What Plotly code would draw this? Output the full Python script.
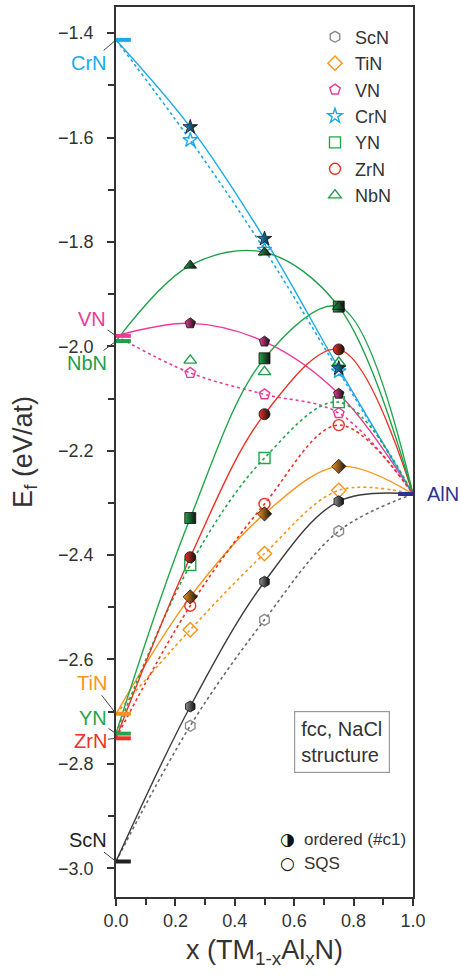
import plotly.graph_objects as go

# ---------------- data ----------------
X_MIX = [0.25, 0.5, 0.75]
COMPOUNDS = ["ScN", "TiN", "VN", "CrN", "YN", "ZrN", "NbN"]
E_BINARY = [-2.987, -2.704, -1.980, -1.413, -2.742, -2.751, -1.990]   # x = 0
E_ALN = -2.283                                                       # x = 1

ORD_ScN = [-2.690, -2.451, -2.297]
ORD_TiN = [-2.480, -2.321, -2.230]
ORD_VN = [-1.956, -1.991, -2.091]
ORD_CrN = [-1.580, -1.794, -2.042]
ORD_YN = [-2.329, -2.023, -1.924]
ORD_ZrN = [-2.404, -2.130, -2.006]
ORD_NbN = [-1.845, -1.820, -1.924]

SQS_ScN = [-2.727, -2.524, -2.354]
SQS_TiN = [-2.543, -2.397, -2.276]
SQS_VN = [-2.051, -2.092, -2.128]
SQS_CrN = [-1.605, -1.815, -2.048]
SQS_YN = [-2.419, -2.214, -2.107]
SQS_ZrN = [-2.497, -2.302, -2.151]
SQS_NbN = [-2.027, -2.049, -2.031]

ORDERED = [ORD_ScN, ORD_TiN, ORD_VN, ORD_CrN, ORD_YN, ORD_ZrN, ORD_NbN]
SQS = [SQS_ScN, SQS_TiN, SQS_VN, SQS_CrN, SQS_YN, SQS_ZrN, SQS_NbN]
SQS_FIT_SHOWN = [True, True, True, True, True, True, False]

# ---------------- style ----------------
LINE_COL = ["#3c3c3c", "#f7941d", "#ec3b96", "#1ca9e6", "#22a64b", "#ee3124", "#1e9e48"]
MARK_COL = ["#8c8c8c", "#f7941d", "#ec3b96", "#1ca9e6", "#22a64b", "#ee3124", "#1e9e48"]
DOT_COL = ["#6a6a6a", "#f7941d", "#ec3b96", "#1ca9e6", "#22a64b", "#ee3124", "#1e9e48"]
SYMBOLS = ["hexagon", "diamond", "pentagon", "star", "square", "circle", "triangle-up"]
ALN_COL = "#2e3192"
BAR_LEN = 0.05
FONT = "Liberation Sans, Arial, sans-serif"
TXT = "#333333"

# label offsets (pixels) for binary-nitride labels
LABEL_OFF = {"ScN": (-28, -22), "TiN": (-24, -31), "VN": (-24, -17), "CrN": (-27, 23),
             "YN": (-23, -16), "ZrN": (-26, 3), "NbN": (-29, 22)}

fig = go.Figure()

# fitted curves (solid = ordered, dotted = SQS)
for i, name in enumerate(COMPOUNDS):
    xs = [0.0] + X_MIX + [1.0]
    if SQS_FIT_SHOWN[i]:
        fig.add_trace(go.Scatter(x=xs, y=[E_BINARY[i]] + SQS[i] + [E_ALN], mode="lines",
                                 line=dict(color=DOT_COL[i], width=1.6, dash="dot", shape="spline"),
                                 showlegend=False, hoverinfo="skip"))
    fig.add_trace(go.Scatter(x=xs, y=[E_BINARY[i]] + ORDERED[i] + [E_ALN], mode="lines",
                             line=dict(color=LINE_COL[i], width=1.4, shape="spline"),
                             showlegend=False, hoverinfo="skip"))

# binary end-point bars
for i, name in enumerate(COMPOUNDS):
    fig.add_trace(go.Scatter(x=[0.0, BAR_LEN], y=[E_BINARY[i]] * 2, mode="lines",
                             line=dict(color=LINE_COL[i] if name != "ScN" else "#222222", width=4),
                             showlegend=False, hoverinfo="skip"))
fig.add_trace(go.Scatter(x=[1.0 - BAR_LEN, 1.0], y=[E_ALN] * 2, mode="lines",
                         line=dict(color=ALN_COL, width=4), showlegend=False, hoverinfo="skip"))

# markers
for i, name in enumerate(COMPOUNDS):
    fig.add_trace(go.Scatter(x=X_MIX, y=SQS[i], mode="markers", name=name,
                             marker=dict(symbol=SYMBOLS[i] + "-open", color=MARK_COL[i], size=11,
                                         line=dict(width=1.4, color=MARK_COL[i]))))
for i, name in enumerate(COMPOUNDS):
    fig.add_trace(go.Scatter(x=X_MIX, y=ORDERED[i], mode="markers", showlegend=False,
                             marker=dict(symbol=SYMBOLS[i], color=MARK_COL[i], size=11,
                                         gradient=dict(type="horizontal", color="#111111"),
                                         line=dict(width=0.8, color="#111111"))))

# labels
for i, name in enumerate(COMPOUNDS):
    ax, ay = LABEL_OFF[name]
    fig.add_annotation(x=0.0, y=E_BINARY[i], text=name, showarrow=True, arrowhead=0,
                       arrowwidth=1, arrowcolor="#444444", ax=ax, ay=ay,
                       font=dict(family=FONT, size=20, color=LINE_COL[i] if name != "ScN" else "#222222"))
fig.add_annotation(x=1.0, y=E_ALN, text="AlN", showarrow=False, xanchor="left", xshift=12,
                   font=dict(family=FONT, size=20, color=ALN_COL))

fig.add_annotation(x=0.7626, y=0.1738, xref="paper", yref="paper", text="fcc, NaCl<br>structure",
                   xanchor="center", yanchor="middle",
                   showarrow=False, font=dict(family=FONT, size=20, color=TXT),
                   bordercolor="#9a9a9a", borderwidth=1.2, borderpad=6, bgcolor="white", align="left")

fig.add_annotation(x=0.579, y=0.065, xref="paper", yref="paper", text="◑", showarrow=False,
                   xanchor="center", yanchor="middle",
                   font=dict(family="DejaVu Sans", size=17, color="#111111"))
fig.add_annotation(x=0.579, y=0.038, xref="paper", yref="paper", text="○", showarrow=False,
                   xanchor="center", yanchor="middle",
                   font=dict(family="DejaVu Sans", size=17, color="#111111"))
fig.add_annotation(x=0.626, y=0.065, xref="paper", yref="paper", text="ordered (#c1)", showarrow=False,
                   xanchor="left", yanchor="middle", font=dict(family=FONT, size=17, color=TXT))
fig.add_annotation(x=0.626, y=0.038, xref="paper", yref="paper", text="SQS", showarrow=False,
                   xanchor="left", yanchor="middle", font=dict(family=FONT, size=17, color=TXT))

axis_common = dict(showline=True, mirror=True, linecolor="#333333", linewidth=1.5,
                   ticks="outside", ticklen=7, tickwidth=1.5, tickcolor="#333333",
                   showgrid=False, zeroline=False,
                   tickfont=dict(family=FONT, size=18, color=TXT))

fig.update_layout(
    width=460, height=976,
    margin=dict(l=116, r=47, t=5, b=79),
    paper_bgcolor="white", plot_bgcolor="white",
    xaxis=dict(range=[0, 1.0], dtick=0.2, tickformat=".1f",
               minor=dict(dtick=0.1, ticks="outside", ticklen=6, tickwidth=1.5, tickcolor="#333333"),
               title=dict(text="x (TM<sub>1-x</sub>Al<sub>x</sub>N)", standoff=10,
                          font=dict(family=FONT, size=27, color=TXT)),
               **axis_common),
    yaxis=dict(range=[-3.055, -1.35], dtick=0.2, tick0=-3.0, tickformat=".1f",
               minor=dict(dtick=0.1, ticks="outside", ticklen=6, tickwidth=1.5, tickcolor="#333333"),
               ticklabelstandoff=10,
               title=dict(text="E<sub>f</sub> (eV/at)", standoff=18,
                          font=dict(family=FONT, size=27, color=TXT)),
               **axis_common),
    legend=dict(x=0.67, y=0.987, xanchor="left", yanchor="top", bgcolor="rgba(0,0,0,0)",
                font=dict(family=FONT, size=18, color=TXT), tracegroupgap=0),
    showlegend=True,
)

fig.write_html("out.html")
